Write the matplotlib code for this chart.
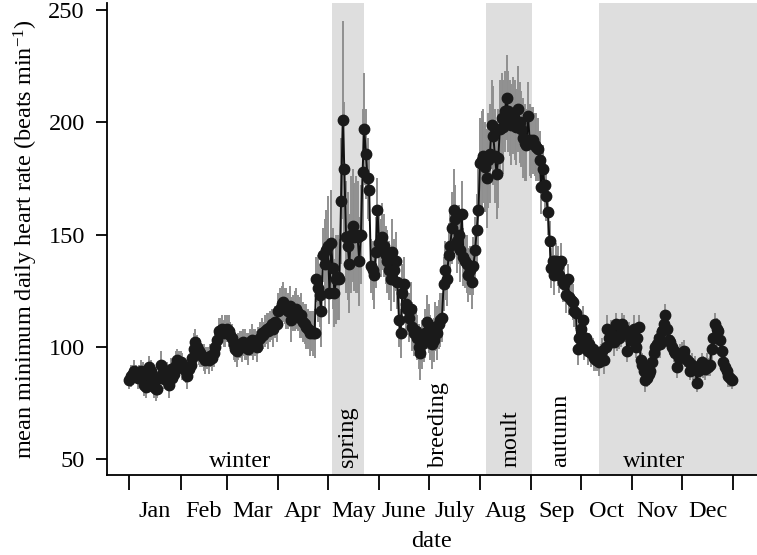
import numpy as np
import matplotlib
matplotlib.use("Agg")
import matplotlib.pyplot as plt

# daily mean minimum heart rate
jan = [85, 87, 88, 89, 88, 86, 88, 89, 87, 83, 82, 88, 91, 89, 86, 82,
       81, 81, 86, 92, 88, 86, 85, 88, 83, 90, 86, 88, 92, 94, 93]
feb = [93, 91, 90, 89, 87, 90, 92, 95, 99, 102, 100, 98, 97, 96, 95, 94,
       95, 94, 96, 95, 97, 100, 103, 107, 106, 108, 106, 107]
mar = [108, 107, 105, 104, 101, 99, 98, 100, 101, 100, 102, 101, 100, 99, 102, 103,
       101, 102, 100, 103, 104, 106, 105, 107, 108, 107, 109, 110, 108, 111, 110]
apr = [116, 117, 119, 120, 118, 117, 116, 118, 112, 115, 116, 117, 115, 113, 114,
       111, 110, 109, 108, 106, 107, 106, 106, 130, 126, 123, 116, 141, 137, 143]
may = [145, 124, 146, 135, 124, 130, 131, 130, 165, 201, 179, 149, 145, 137, 150, 154,
       149, 150, 149, 138, 150, 178, 197, 186, 175, 170, 136, 134, 132, 142, 161]
jun = [146, 144, 149, 145, 141, 138, 134, 130, 142, 134, 138, 129, 112, 106, 124,
       128, 119, 117, 113, 117, 109, 106, 107, 104, 100, 97, 101, 103, 106, 111]
jul = [108, 104, 101, 103, 109, 106, 110, 112, 113, 128, 134, 130, 141, 145, 153, 161,
       157, 147, 150, 143, 159, 140, 138, 137, 132, 134, 129, 136, 143, 152, 161]
aug = [182, 183, 185, 180, 175, 183, 186, 199, 194, 185, 177, 184, 197, 202, 198, 205,
       211, 205, 202, 199, 203, 201, 198, 206, 200, 197, 193, 191, 190, 203, 192]
sep = [191, 192, 190, 189, 188, 183, 171, 179, 172, 167, 160, 147, 135, 138, 132,
       138, 136, 132, 138, 129, 128, 123, 130, 122, 121, 120, 116, 115, 99, 104]
oct_ = [108, 112, 100, 104, 98, 101, 97, 99, 95, 94, 94, 93, 96, 98, 94, 100,
        108, 104, 106, 104, 102, 110, 104, 104, 106, 110, 108, 107, 98, 105, 103]
nov = [103, 108, 100, 104, 109, 94, 92, 89, 85, 86, 88, 89, 93, 97, 100,
       101, 104, 101, 107, 110, 114, 108, 103, 102, 100, 98, 97, 91, 95, 96]
dec = [97, 98, 95, 94, 93, 89, 92, 90, 91, 84, 89, 90, 93, 91, 90, 92,
       91, 92, 99, 104, 110, 108, 107, 103, 98, 93, 91, 89, 87, 86, 85]

# half length of the grey error bars
err_jan = [4, 5, 4, 5, 4, 5, 4, 5, 6, 5, 5, 4, 5, 5, 6, 5, 5, 4, 5, 6, 5, 5, 4, 5, 6, 5, 5, 5, 6, 5, 5]
err_feb = [5, 6, 5, 5, 6, 5, 6, 6, 7, 6, 5, 6, 6, 5, 6, 6, 5, 6, 5, 6, 6, 7, 6, 6, 7, 6, 6, 7]
err_mar = [6, 7, 6, 6, 7, 6, 7, 6, 6, 7, 6, 7, 6, 7, 6, 7, 7, 6, 7, 6, 7, 7, 6, 7, 7, 8, 7, 7, 8, 7, 8]
err_apr = [8, 9, 8, 9, 8, 9, 8, 9, 10, 8, 9, 9, 8, 9, 10, 9, 9, 10, 9, 10, 9, 10, 11, 10, 15, 14, 16, 12, 20, 18]
err_may = [22, 14, 24, 18, 15, 20, 19, 18, 28, 44, 30, 25, 24, 22, 26, 25, 24, 26, 25, 20, 22, 28, 25, 20, 18, 14, 12, 13, 15, 16, 14]
err_jun = [14, 13, 15, 14, 13, 14, 13, 14, 15, 14, 13, 12, 12, 11, 13, 12, 11, 12, 11, 12, 11, 10, 11, 10, 10, 12, 11, 10, 11, 12]
err_jul = [11, 10, 11, 10, 11, 12, 11, 12, 11, 12, 13, 12, 14, 15, 16, 18, 15, 14, 13, 14, 15, 13, 12, 13, 12, 11, 12, 13, 15, 16, 18]
err_aug = [20, 22, 21, 20, 22, 21, 22, 20, 22, 21, 20, 22, 22, 20, 21, 18, 19, 18, 17, 18, 17, 18, 17, 19, 18, 17, 18, 17, 16, 15, 16]
err_sep = [16, 15, 14, 15, 14, 13, 12, 11, 12, 11, 10, 9, 9, 8, 9, 8, 9, 8, 8, 9, 8, 8, 7, 8, 7, 8, 7, 7, 7, 6]
err_oct = [6, 6, 6, 5, 6, 5, 6, 5, 6, 5, 5, 6, 5, 6, 6, 5, 6, 5, 6, 5, 6, 5, 6, 5, 6, 5, 6, 5, 5, 6, 5]
err_nov = [5, 6, 5, 6, 5, 5, 5, 4, 5, 4, 5, 5, 5, 5, 5, 6, 5, 6, 5, 6, 5, 5, 5, 5, 5, 5, 4, 5, 5, 5]
err_dec = [5, 5, 4, 5, 5, 4, 5, 5, 5, 4, 5, 5, 4, 5, 5, 5, 4, 5, 5, 6, 5, 5, 5, 5, 4, 5, 5, 4, 5, 4, 4]

months = ["Jan", "Feb", "Mar", "Apr", "May", "June", "July", "Aug", "Sep", "Oct", "Nov", "Dec"]
month_start = [0, 31, 59, 90, 120, 151, 181, 212, 243, 273, 304, 334, 365]

# shaded periods (day of year) and season labels
shaded = [(122.4, 141.9), (215.5, 243.5), (283.6, 380)]
season_names = ["winter", "spring", "breeding", "moult", "autumn", "winter"]
season_days = [67, 132, 186.6, 231, 260.6, 317]
season_rot = [0, 90, 90, 90, 90, 0]

hr = np.array(jan + feb + mar + apr + may + jun + jul + aug + sep + oct_ + nov + dec, dtype=float)
se = np.array(err_jan + err_feb + err_mar + err_apr + err_may + err_jun + err_jul
              + err_aug + err_sep + err_oct + err_nov + err_dec, dtype=float)
day = np.arange(len(hr))

plt.rcParams['font.family'] = ['Liberation Serif', 'DejaVu Serif']
plt.rcParams['mathtext.fontset'] = 'custom'
plt.rcParams['mathtext.rm'] = 'Liberation Serif'
plt.rcParams['mathtext.it'] = 'Liberation Serif:italic'

fig = plt.figure(figsize=(7.57, 5.55), dpi=100)
ax = fig.add_axes([0.1413, 0.1441, 0.8587, 0.8505])

for a, b in shaded:
    ax.axvspan(a, b, color='#dedede', lw=0, zorder=0)

ax.vlines(day, hr - se, hr + se, color='#8f8f8f', lw=1.4, zorder=2)
ax.plot(day, hr, color='#111111', lw=1.4, zorder=3)
ax.plot(day, hr, 'o', color='#1a1a1a', ms=7.5, zorder=4)

for name, d, r in zip(season_names, season_days, season_rot):
    if r == 0:
        ax.text(d, 46.3, name, ha='center', va='baseline', fontsize=17.5)
    else:
        ax.text(d, 46.3, name, ha='center', va='bottom', rotation=90, fontsize=17.5)

ax.set_xlim(-13.5, 379.4)
ax.set_ylim(42.8, 253.2)

ax.spines['top'].set_visible(False)
ax.spines['right'].set_visible(False)
ax.spines['left'].set_linewidth(1.3)
ax.spines['bottom'].set_linewidth(1.3)

ax.set_yticks([50, 100, 150, 200, 250])
ax.tick_params(axis='y', length=8, width=1.3, pad=8, labelsize=17.5)

ax.set_xticks(month_start)
ax.set_xticklabels([])
ax.set_xticks([(month_start[i] + month_start[i + 1]) / 2 for i in range(12)], minor=True)
ax.set_xticklabels(months, minor=True)
ax.tick_params(axis='x', which='major', length=11, width=1.3)
ax.tick_params(axis='x', which='minor', length=0, pad=19, labelsize=17.5)

ax.set_xlabel('date', fontsize=17.5, labelpad=6)
ax.set_ylabel(r'mean minimum daily heart rate (beats min$^{-1}$)', fontsize=17.5, labelpad=6)

fig.savefig('out.png', dpi=100)
